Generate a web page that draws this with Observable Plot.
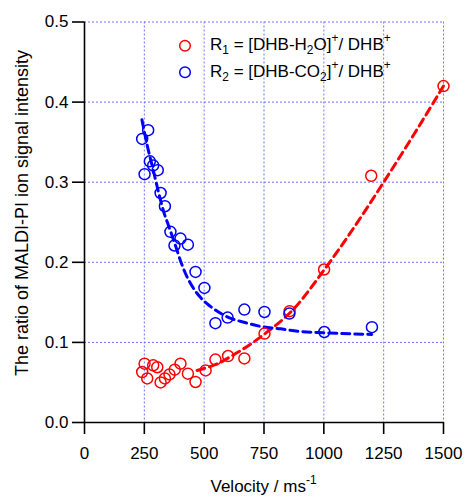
<!DOCTYPE html>
<html><head><meta charset="utf-8">
<script src="https://cdn.jsdelivr.net/npm/d3@7"></script>
<script src="https://cdn.jsdelivr.net/npm/@observablehq/plot@0.6"></script>
<style>body{margin:0;background:#fff} svg{display:block}</style>
</head><body><div id="chart"></div>
<script>
const xTicks = [0, 250, 500, 750, 1000, 1250, 1500];
const yTicks = [0, 0.1, 0.2, 0.3, 0.4, 0.5];

const r1Velocity = [241, 251, 262, 287, 304, 318, 336, 355, 377, 401, 432, 464, 506, 547, 600, 668, 752, 857, 1001, 1198, 1500];
const r1Ratio = [0.063, 0.0735, 0.055, 0.0714, 0.069, 0.050, 0.055, 0.060, 0.066, 0.0735, 0.061, 0.0506, 0.065, 0.0785, 0.083, 0.080, 0.111, 0.139, 0.191, 0.308, 0.420];

const r2Velocity = [241, 251, 266, 273, 287, 306, 318, 336, 359, 376, 401, 432, 464, 501, 547, 598, 668, 752, 856, 1002, 1201];
const r2Ratio = [0.354, 0.310, 0.365, 0.326, 0.321, 0.315, 0.2865, 0.270, 0.238, 0.221, 0.2296, 0.222, 0.188, 0.168, 0.124, 0.131, 0.141, 0.138, 0.136, 0.113, 0.119];

const r1FitVelocity = [470, 560, 620, 690, 750, 875, 1000, 1125, 1250, 1375, 1500];
const r1FitRatio = [0.065, 0.074, 0.084, 0.097, 0.110, 0.142, 0.190, 0.243, 0.300, 0.359, 0.420];

const r2FitVelocity = [240, 262, 285, 304, 331, 352, 380, 401, 422, 450, 485, 526, 582, 680, 735, 818, 890, 1000, 1200];
const r2FitRatio = [0.378, 0.346, 0.318, 0.294, 0.263, 0.245, 0.221, 0.202, 0.186, 0.170, 0.156, 0.145, 0.134, 0.124, 0.120, 0.117, 0.114, 0.112, 0.110];

const xLabel = [{t: "Velocity / ms"}, {t: "-1", sup: true}];
const yLabel = "The ratio of MALDI-PI ion signal intensity";
const legendR1 = [{t: "R"}, {t: "1", sub: true}, {t: " = [DHB-H"}, {t: "2", sub: true}, {t: "O]"}, {t: "+", sup: true}, {t: "/ DHB"}, {t: "+", sup: true}];
const legendR2 = [{t: "R"}, {t: "2", sub: true}, {t: " = [DHB-CO"}, {t: "2", sub: true}, {t: "]"}, {t: "+", sup: true}, {t: "/ DHB"}, {t: "+", sup: true}];

const red = "#ff0000", blue = "#0000ff", gridColor = "#7272ff";

const r1 = r1Velocity.map((v, i) => ({v, r: r1Ratio[i]}));
const r2 = r2Velocity.map((v, i) => ({v, r: r2Ratio[i]}));
const f1 = r1FitVelocity.map((v, i) => ({v, r: r1FitRatio[i]}));
const f2 = r2FitVelocity.map((v, i) => ({v, r: r2FitRatio[i]}));

const font = "'Liberation Sans', Arial, sans-serif";

const chart = Plot.plot({
  width: 464, height: 497,
  marginLeft: 84, marginRight: 21, marginTop: 21.5, marginBottom: 75,
  style: {fontFamily: font, fontSize: "17px", color: "black", background: "white"},
  x: {domain: [0, 1500]},
  y: {domain: [0, 0.5]},
  marks: [
    Plot.ruleX(xTicks.filter(d => d > 0), {stroke: gridColor, strokeDasharray: "2,2", strokeWidth: 1}),
    Plot.ruleY(yTicks.filter(d => d > 0), {stroke: gridColor, strokeDasharray: "2,2", strokeWidth: 1}),
    Plot.ruleX([0], {y1: 0, y2: 0.5, stroke: "black", strokeWidth: 1.6}),
    Plot.ruleY([0], {x1: 0, x2: 1500, stroke: "black", strokeWidth: 1.6}),
    Plot.axisX({ticks: xTicks, tickSize: 12, tickPadding: 12, tickFormat: d => String(d), label: null, strokeWidth: 1.6}),
    Plot.axisY({ticks: yTicks, tickSize: 12, tickPadding: 4, tickFormat: d3.format(".1f"), label: null, strokeWidth: 1.6}),
    Plot.line(f1, {x: "v", y: "r", stroke: red, strokeWidth: 3, strokeDasharray: "8,5", curve: "monotone-x"}),
    Plot.line(f2, {x: "v", y: "r", stroke: blue, strokeWidth: 3, strokeDasharray: "8,5", curve: "monotone-x"}),
    Plot.dot(r1, {x: "v", y: "r", r: 5.5, stroke: red, strokeWidth: 1.5, fill: "none"}),
    Plot.dot(r2, {x: "v", y: "r", r: 5.5, stroke: blue, strokeWidth: 1.5, fill: "none"})
  ]
});

document.getElementById("chart").appendChild(chart);

const svg = d3.select(chart);
function rich(sel, parts, base) {
  let shift = 0;
  parts.forEach(p => {
    const target = p.sub ? 4 : p.sup ? -8 : 0;
    const ts = sel.append("tspan").text(p.t).attr("dy", target - shift);
    if (p.sub || p.sup) ts.attr("font-size", base * 0.7);
    shift = target;
  });
}
const g = svg.append("g").attr("font-family", font).attr("fill", "black");
// x label
const xl = g.append("text").attr("x", 263.5).attr("y", 492).attr("text-anchor", "middle").attr("font-size", 17);
rich(xl, xLabel, 17);
// y label
g.append("text").attr("transform", "translate(28,213) rotate(-90)").attr("text-anchor", "middle").attr("font-size", 18).text(yLabel);
// legend
const lg = g.append("g");
[[legendR1, red, 45.7, 50], [legendR2, blue, 72.3, 76.7]].forEach(([parts, c, cy, by]) => {
  lg.append("circle").attr("cx", 185).attr("cy", cy).attr("r", 5.3).attr("fill", "none").attr("stroke", c).attr("stroke-width", 1.5);
  const t = lg.append("text").attr("x", 210).attr("y", by).attr("text-anchor", "start").attr("font-size", 17);
  rich(t, parts, 17);
});
</script>
</body></html>
